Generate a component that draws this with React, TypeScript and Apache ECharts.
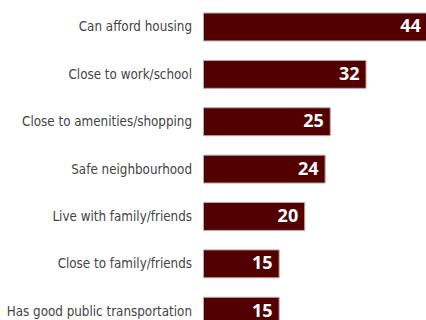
import React, { useEffect, useRef } from "react";
import * as echarts from "echarts";

const categories = [
  "Can afford housing",
  "Close to work/school",
  "Close to amenities/shopping",
  "Safe neighbourhood",
  "Live with family/friends",
  "Close to family/friends",
  "Has good public transportation",
];
const values = [44, 32, 25, 24, 20, 15, 15];

export default function App() {
  const ref = useRef<HTMLDivElement>(null);
  useEffect(() => {
    if (!ref.current) return;
    const chart = echarts.init(ref.current, null, { renderer: "svg" });
    chart.setOption({
      animation: false,
      grid: {
        left: 203,
        top: 3.3,
        width: 255.5,
        height: 331.6,
        containLabel: false,
        outerBoundsMode: "none",
      },
      xAxis: {
        type: "value",
        min: 0,
        max: 50,
        show: false,
      },
      yAxis: {
        type: "category",
        data: categories,
        inverse: true,
        axisLine: { show: false },
        axisTick: { show: false },
        axisLabel: {
          margin: 11,
          color: "#444",
          fontSize: 13.3,
          fontFamily: "DejaVu Sans Condensed",
        },
      },
      series: [
        {
          type: "bar",
          data: values,
          barCategoryGap: "39%",
          itemStyle: { color: "#520000", borderColor: "#b8a8a8", borderWidth: 1 },
          label: {
            show: true,
            position: "insideRight",
            distance: 7,
            offset: [0, -1.5],
            color: "#fff",
            fontWeight: "bold",
            fontSize: 18,
            fontFamily: "Open Sans",
          },
        },
      ],
    });
    return () => chart.dispose();
  }, []);
  return (
    <div
      ref={ref}
      style={{ position: "absolute", left: 0, top: 0, width: 426, height: 320 }}
    />
  );
}
